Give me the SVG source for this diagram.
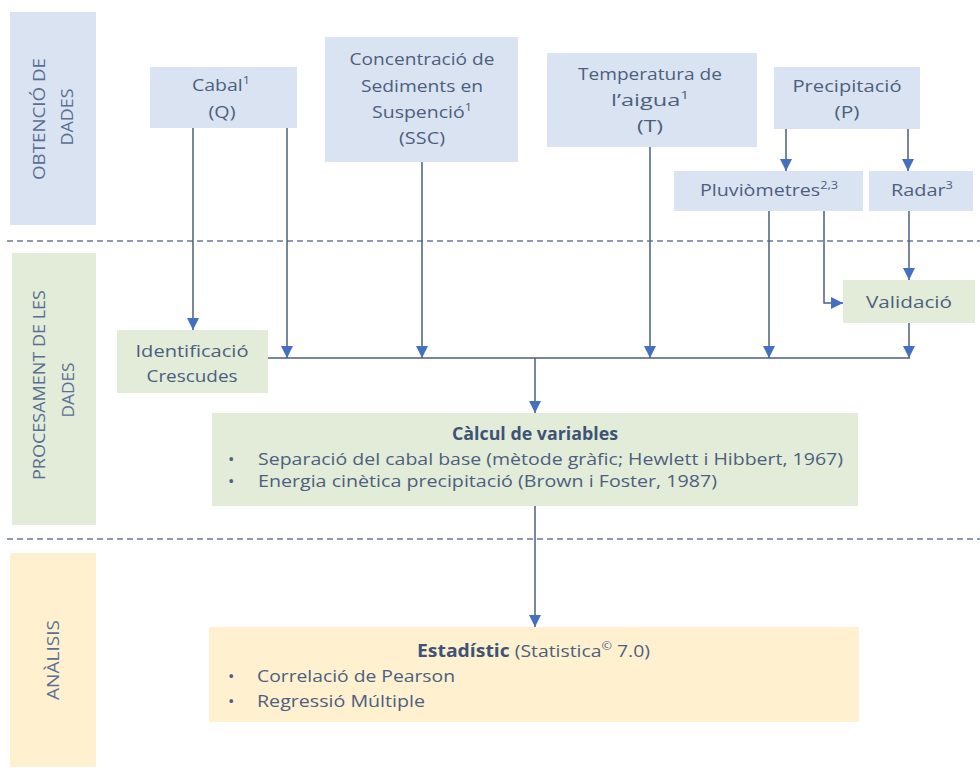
<svg xmlns="http://www.w3.org/2000/svg" width="980" height="775" viewBox="0 0 980 775">
  <style>
    .t { font-family: "Open Sans", "Liberation Sans", sans-serif; font-size: 17px; fill: #4d5f7e; }
    .c { text-anchor: middle; }
    .b { font-weight: bold; fill: #3f5377; }
    .side { font-family: "Open Sans", "Liberation Sans", sans-serif; font-size: 17px; fill: #5a6f92; text-anchor: middle; }
    .blue { fill: #dae3f2; }
    .green { fill: #e2ecd9; }
    .gold { fill: #fff1cf; }
    .ln { fill: none; stroke: #4c5e80; stroke-width: 1.5; }
    .dash { fill: none; stroke: #6a7a96; stroke-width: 1.5; stroke-dasharray: 6 4; }
    .sup { font-size: 11px; }
  </style>
  <defs>
    <marker id="ah" markerUnits="userSpaceOnUse" markerWidth="12" markerHeight="12" refX="12" refY="6" orient="auto">
      <path d="M0,0 L12,6 L0,12 z" fill="#4470c0"/>
    </marker>
  </defs>
  <rect width="980" height="775" fill="#ffffff"/>

  <!-- phase labels -->
  <g id="phase-obtencio">
    <rect class="blue" x="10" y="12" width="86" height="213"/>
    <text class="side" transform="translate(45,119) rotate(-90)" textLength="122" lengthAdjust="spacingAndGlyphs">OBTENCIÓ DE</text>
    <text class="side" transform="translate(73,117) rotate(-90)" textLength="57" lengthAdjust="spacingAndGlyphs">DADES</text>
  </g>
  <g id="phase-procesament">
    <rect class="green" x="12" y="253" width="84" height="272"/>
    <text class="side" transform="translate(45,385) rotate(-90)" textLength="190" lengthAdjust="spacingAndGlyphs">PROCESAMENT DE LES</text>
    <text class="side" transform="translate(74,390) rotate(-90)" textLength="55" lengthAdjust="spacingAndGlyphs">DADES</text>
  </g>
  <g id="phase-analisis">
    <rect class="gold" x="10" y="553" width="86" height="214"/>
    <text class="side" transform="translate(59,660) rotate(-90)" textLength="80" lengthAdjust="spacingAndGlyphs">ANÀLISIS</text>
  </g>

  <!-- separators -->
  <g id="separators">
    <line class="dash" x1="7" y1="241" x2="980" y2="241"/>
    <line class="dash" x1="7" y1="539" x2="980" y2="539"/>
  </g>

  <!-- nodes -->
  <g id="cabal">
    <rect class="blue" x="150" y="67" width="147" height="61"/>
    <text class="t c" x="221" y="91" textLength="58" lengthAdjust="spacingAndGlyphs">Cabal<tspan class="sup" dy="-7">1</tspan></text>
    <text class="t c" x="222" y="118" textLength="27" lengthAdjust="spacingAndGlyphs">(Q)</text>
  </g>
  <g id="ssc">
    <rect class="blue" x="325" y="37" width="193" height="125"/>
    <text class="t c" x="422" y="65" textLength="145" lengthAdjust="spacingAndGlyphs">Concentració de</text>
    <text class="t c" x="422" y="92" textLength="122" lengthAdjust="spacingAndGlyphs">Sediments en</text>
    <text class="t c" x="422" y="118" textLength="100" lengthAdjust="spacingAndGlyphs">Suspenció<tspan class="sup" dy="-7">1</tspan></text>
    <text class="t c" x="422" y="144" textLength="46" lengthAdjust="spacingAndGlyphs">(SSC)</text>
  </g>
  <g id="temperatura">
    <rect class="blue" x="547" y="53" width="210" height="94"/>
    <text class="t c" x="650" y="80" textLength="144" lengthAdjust="spacingAndGlyphs">Temperatura de</text>
    <text class="t c" x="650" y="106" textLength="78" lengthAdjust="spacingAndGlyphs">l’aigua<tspan class="sup" dy="-7">1</tspan></text>
    <text class="t c" x="650" y="132" textLength="26" lengthAdjust="spacingAndGlyphs">(T)</text>
  </g>
  <g id="precipitacio">
    <rect class="blue" x="774" y="67" width="146" height="62"/>
    <text class="t c" x="847" y="92" textLength="109" lengthAdjust="spacingAndGlyphs">Precipitació</text>
    <text class="t c" x="847" y="118" textLength="25" lengthAdjust="spacingAndGlyphs">(P)</text>
  </g>
  <g id="pluviometres">
    <rect class="blue" x="674" y="171" width="189" height="40"/>
    <text class="t c" x="769" y="196" textLength="138" lengthAdjust="spacingAndGlyphs">Pluviòmetres<tspan class="sup" dy="-7">2,3</tspan></text>
  </g>
  <g id="radar">
    <rect class="blue" x="869" y="171" width="104" height="40"/>
    <text class="t c" x="922" y="196" textLength="62" lengthAdjust="spacingAndGlyphs">Radar<tspan class="sup" dy="-7">3</tspan></text>
  </g>
  <g id="validacio">
    <rect class="green" x="843" y="280" width="132" height="43"/>
    <text class="t c" x="909" y="308" textLength="86" lengthAdjust="spacingAndGlyphs">Validació</text>
  </g>
  <g id="identificacio">
    <rect class="green" x="117" y="330" width="151" height="63"/>
    <text class="t c" x="192" y="357" textLength="113" lengthAdjust="spacingAndGlyphs">Identificació</text>
    <text class="t c" x="192" y="382" textLength="91" lengthAdjust="spacingAndGlyphs">Crescudes</text>
  </g>
  <g id="calcul">
    <rect class="green" x="212" y="413" width="646" height="93"/>
    <text class="t c b" x="535" y="440" textLength="166" lengthAdjust="spacingAndGlyphs">Càlcul  de variables</text>
    <text class="t" x="228" y="465">•</text>
    <text class="t" x="258" y="465" textLength="585" lengthAdjust="spacingAndGlyphs">Separació del cabal base (mètode gràfic; Hewlett  i Hibbert, 1967)</text>
    <text class="t" x="228" y="487">•</text>
    <text class="t" x="258" y="487" textLength="459" lengthAdjust="spacingAndGlyphs">Energia cinètica precipitació (Brown i Foster, 1987)</text>
  </g>
  <g id="estadistic">
    <rect class="gold" x="209" y="627" width="650" height="95"/>
    <text class="t" x="417" y="657" textLength="233" lengthAdjust="spacingAndGlyphs"><tspan class="b">Estadístic</tspan> (Statistica<tspan class="sup" dy="-7">©</tspan><tspan dy="7"> 7.0)</tspan></text>
    <text class="t" x="228" y="682">•</text>
    <text class="t" x="257" y="682" textLength="198" lengthAdjust="spacingAndGlyphs">Correlació de Pearson</text>
    <text class="t" x="228" y="707">•</text>
    <text class="t" x="257" y="707" textLength="168" lengthAdjust="spacingAndGlyphs">Regressió Múltiple</text>
  </g>

  <!-- connectors -->
  <g id="connectors">
    <line class="ln" x1="193" y1="128" x2="193" y2="330" marker-end="url(#ah)"/>
    <line class="ln" x1="287" y1="128" x2="287" y2="358" marker-end="url(#ah)"/>
    <line class="ln" x1="422" y1="162" x2="422" y2="358" marker-end="url(#ah)"/>
    <line class="ln" x1="650" y1="147" x2="650" y2="358" marker-end="url(#ah)"/>
    <line class="ln" x1="786" y1="129" x2="786" y2="171" marker-end="url(#ah)"/>
    <line class="ln" x1="908" y1="129" x2="908" y2="171" marker-end="url(#ah)"/>
    <line class="ln" x1="769" y1="211" x2="769" y2="358" marker-end="url(#ah)"/>
    <polyline class="ln" points="824,211 824,303 843,303" marker-end="url(#ah)"/>
    <line class="ln" x1="909" y1="211" x2="909" y2="280" marker-end="url(#ah)"/>
    <line class="ln" x1="909" y1="323" x2="909" y2="358" marker-end="url(#ah)"/>
    <line class="ln" x1="268" y1="358" x2="910" y2="358"/>
    <line class="ln" x1="535" y1="358" x2="535" y2="413" marker-end="url(#ah)"/>
    <line class="ln" x1="535" y1="506" x2="535" y2="627" marker-end="url(#ah)"/>
  </g>
</svg>
